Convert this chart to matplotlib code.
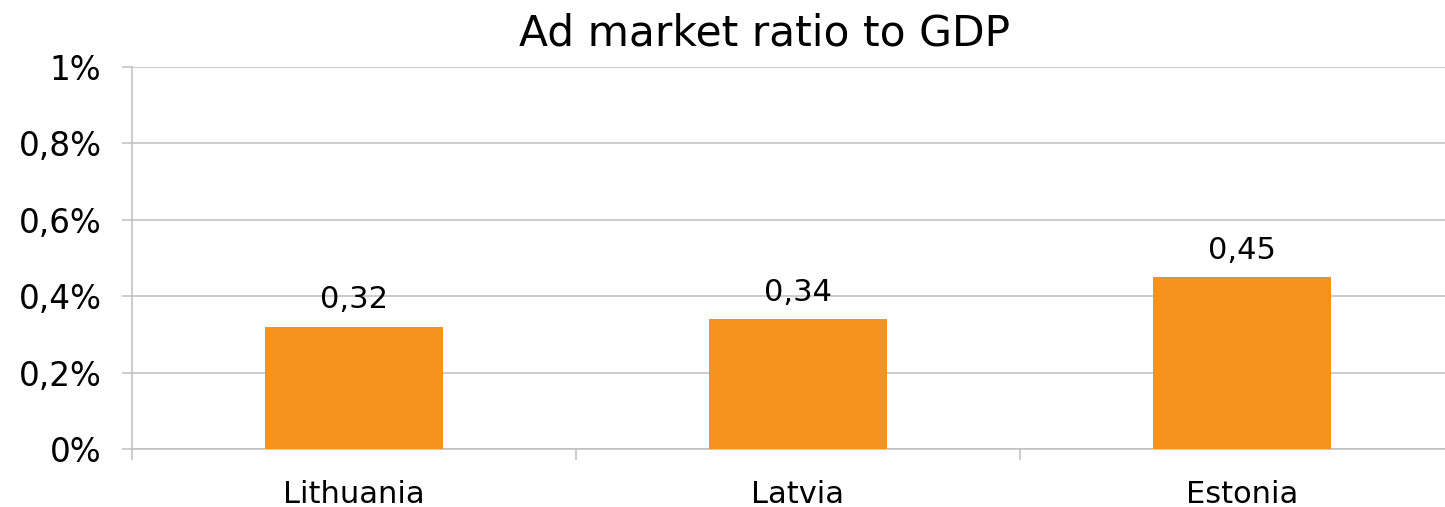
import matplotlib
matplotlib.use("Agg")
import matplotlib.pyplot as plt

categories = ["Lithuania", "Latvia", "Estonia"]
values = [0.32, 0.34, 0.45]
value_labels = ["0,32", "0,34", "0,45"]
yticks = [0, 0.2, 0.4, 0.6, 0.8, 1.0]
ytick_labels = ["0%", "0,2%", "0,4%", "0,6%", "0,8%", "1%"]
title = "Ad market ratio to GDP"

W, H = 1445, 507
fig = plt.figure(figsize=(W / 100, H / 100), dpi=100)
ax = fig.add_axes([132 / W, 1 - 449 / H, (W - 132) / W, (449 - 67) / H])

grid_c = "#BFBFBF"
bar_c = "#F59320"
x = list(range(len(categories)))
ax.bar(x, values, width=0.4, color=bar_c, zorder=3)

ax.set_ylim(0, 1.0)
ax.set_xlim(-0.5, -0.5 + (W - 132) / 444)
ax.set_yticks(yticks)
ax.set_yticklabels(ytick_labels)
ax.yaxis.grid(True, color=grid_c, linewidth=1.1, zorder=0)
ax.set_axisbelow(True)

ax.set_xticks(x)
ax.set_xticklabels(categories)
ax.set_xticks([-0.5, 0.5, 1.5], minor=True)
ax.tick_params(axis="x", which="major", length=0, pad=22, labelsize=22)
ax.tick_params(axis="x", which="minor", length=8, width=1.1, color=grid_c, direction="out")
ax.tick_params(axis="y", length=7, width=1.1, color=grid_c, pad=15, labelsize=23.5)

for s in ["top", "right"]:
    ax.spines[s].set_visible(False)
for s in ["left", "bottom"]:
    ax.spines[s].set_color(grid_c)
    ax.spines[s].set_linewidth(1.1)

for xi, v, lab in zip(x, values, value_labels):
    ax.annotate(lab, (xi, v), xytext=(0, 9), textcoords="offset points",
                ha="center", va="bottom", fontsize=22)

fig.text(765 / W, 1 - 33 / H, title, ha="center", va="center", fontsize=30.5)

fig.savefig("out.png", dpi=100)
